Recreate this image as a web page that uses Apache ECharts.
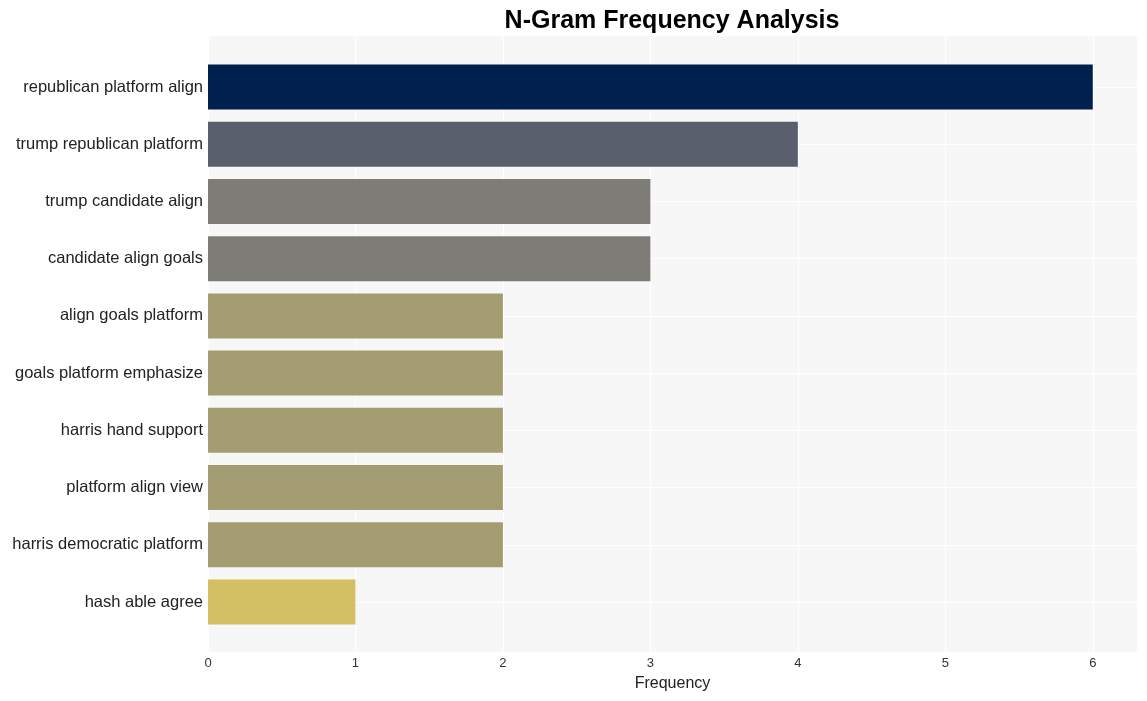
<!DOCTYPE html>
<html><head><meta charset="utf-8">
<script src="https://cdn.jsdelivr.net/npm/echarts@6/dist/echarts.min.js"></script>
<style>html,body{margin:0;padding:0;background:#fff}#c{width:1147px;height:701px}</style>
</head><body><div id="c"></div>
<script>
const categories = ["republican platform align","trump republican platform","trump candidate align","candidate align goals","align goals platform","goals platform emphasize","harris hand support","platform align view","harris democratic platform","hash able agree"];
const values = [6,4,3,3,2,2,2,2,2,1];
const barColors = ["#00214d","#5a5f6e","#7e7c76","#7e7c76","#a59d72","#a59d72","#a59d72","#a59d72","#a59d72","#d3c062"];
const xTicks = [0,1,2,3,4,5,6];

const font = "Liberation Sans, Arial, sans-serif";
const chart = echarts.init(document.getElementById('c'), null, {renderer:'canvas'});
chart.setOption({
  animation:false,
  title:{text:"N-Gram Frequency Analysis",left:667,top:4,textAlign:'center',
    textStyle:{fontFamily:font,fontSize:25,fontWeight:'bold',color:'#000'}},
  grid:[
    {left:208,right:10,top:36,bottom:49,show:true,backgroundColor:'#f7f7f7',borderWidth:0},
    {left:208,right:10,top:87,bottom:99}
  ],
  xAxis:[
    {gridIndex:0,type:'value',min:0,max:6.3,interval:1,
     axisLine:{show:false},axisTick:{show:false},
     splitLine:{show:true,lineStyle:{color:'#ffffff',width:1}},
     axisLabel:{fontFamily:font,fontSize:13,color:'#333',margin:5,
       formatter:v=>xTicks.includes(v)?String(v):''},
     name:'Frequency',nameLocation:'middle',nameGap:24,
     nameTextStyle:{fontFamily:font,fontSize:16,color:'#222'}},
    {gridIndex:1,type:'value',min:0,max:6.3,show:false}
  ],
  yAxis:[
    {gridIndex:0,type:'value',show:false},
    {gridIndex:1,type:'category',data:categories,inverse:true,boundaryGap:false,
     axisLine:{show:false},axisTick:{show:false},
     splitLine:{show:true,lineStyle:{color:'#ffffff',width:1}},
     axisLabel:{fontFamily:font,fontSize:16.5,color:'#222',margin:5}}
  ],
  series:[{
    type:'bar',xAxisIndex:1,yAxisIndex:1,barWidth:45,
    data:values.map((v,i)=>({value:v,itemStyle:{color:barColors[i]}}))
  }]
});
</script></body></html>
